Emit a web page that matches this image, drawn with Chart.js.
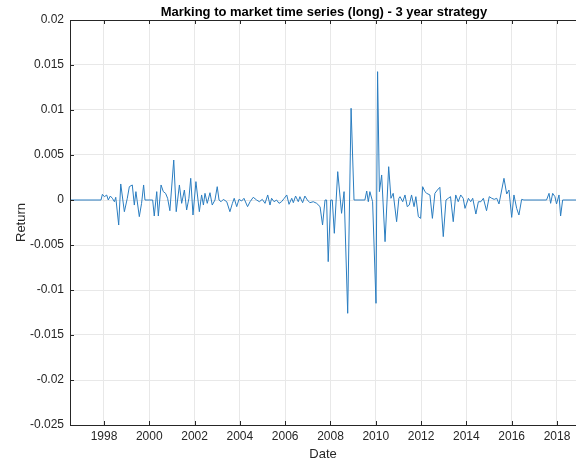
<!DOCTYPE html>
<html><head><meta charset="utf-8">
<script src="https://cdn.jsdelivr.net/npm/chart.js@4"></script>
<style>html,body{margin:0;padding:0;background:#fff;overflow:hidden}#w{width:576px;height:462px}</style>
</head><body><div id="w"><canvas id="c"></canvas></div>
<script>
const years = [1996.5,1997.87,1997.93,1998.02,1998.12,1998.19,1998.28,1998.37,1998.46,1998.52,1998.65,1998.74,1998.90,1999.03,1999.12,1999.25,1999.34,1999.41,1999.56,1999.66,1999.75,1999.81,2000.15,2000.22,2000.33,2000.40,2000.52,2000.62,2000.72,2000.81,2000.91,2001.08,2001.19,2001.33,2001.43,2001.55,2001.65,2001.75,2001.83,2001.93,2002.06,2002.21,2002.31,2002.39,2002.46,2002.56,2002.68,2002.78,2002.90,2003.00,2003.08,2003.17,2003.27,2003.42,2003.56,2003.67,2003.75,2003.86,2003.96,2004.08,2004.18,2004.34,2004.45,2004.59,2004.74,2004.86,2004.99,2005.11,2005.23,2005.33,2005.40,2005.51,2005.62,2005.73,2005.84,2005.96,2006.07,2006.17,2006.29,2006.36,2006.46,2006.58,
2006.65,2006.77,2006.87,2006.98,2007.09,2007.24,2007.39,2007.54,2007.65,2007.76,2007.83,2007.90,2008.01,2008.08,2008.17,2008.32,2008.49,2008.60,2008.76,2008.91,2009.04,2009.52,2009.60,2009.67,2009.74,2009.86,2010.01,2010.08,2010.16,2010.26,2010.41,2010.57,2010.67,2010.77,2010.92,2011.02,
2011.07,2011.19,2011.29,2011.39,2011.48,2011.58,2011.69,2011.77,2011.88,2011.98,2012.07,2012.17,2012.25,2012.39,2012.50,2012.61,2012.72,2012.83,2012.98,2013.10,2013.20,2013.30,2013.42,2013.53,2013.64,2013.75,2013.86,2013.94,2014.09,2014.19,2014.28,2014.42,2014.53,2014.64,2014.75,2014.89,2015.01,2015.12,2015.23,2015.34,2015.44,2015.56,2015.66,2015.78,2015.88,2016.00,2016.10,2016.22,2016.32,2016.44,2016.54,2017.54,2017.65,2017.72,2017.81,2017.91,2017.98,2018.09,2018.16,2018.25,2018.84];
const returns = [0,0,0.63,0.37,0.55,0,0.44,0.19,-0.19,0.30,-2.78,1.78,-1.30,0.19,1.48,1.67,-0.56,0.93,-1.85,-0.37,1.67,0,0,-1.78,0.93,-1.78,1.67,0.93,0.74,0.19,-1.19,4.44,-1.30,1.67,-0.37,1.11,-1.11,0.19,2.41,-1.67,2.04,-1.30,0.56,-0.56,0.74,-0.37,0.81,-0.56,0,1.48,0,-0.19,0.07,-0.19,-1.30,-0.37,0.19,-0.74,0.07,-0.11,0.19,-0.74,-0.19,0.30,0,-0.19,0.07,-0.37,0.56,-0.56,0.19,-0.19,0,-0.37,-0.19,0.19,0.56,-0.48,0.19,-0.30,0.44,-0.19,
0.37,-0.30,0.44,0,-0.30,-0.19,-0.37,-0.74,-2.78,0,0,-6.85,0,0,-3.70,3.15,-1.48,0.93,-12.59,10.19,0,0,1.0,-0.19,0.93,-0.19,-11.48,14.26,0.93,2.78,-4.63,3.70,0.19,0.74,-2.41,0.19,
0.37,-0.19,0.56,-0.74,-0.56,0.56,-0.74,0.37,-1.85,-2.04,1.48,0.93,0.74,0.56,-2.04,0.74,1.11,1.41,-4.07,0,0.19,0.37,-2.41,0.56,-0.19,0.56,0.19,-0.93,0.19,-0.19,0.19,-1.56,-0.19,-0.19,0.19,-1.19,0.37,0.19,0.07,0.19,-0.44,1.11,2.41,0.67,1.11,-1.93,0.56,-0.93,-1.67,0.07,0,0,0.74,-0.37,0.74,0.37,-0.44,0.56,-1.78,0,0];
const xTicks = [1998,2000,2002,2004,2006,2008,2010,2012,2014,2016,2018];
const yTicks = [-0.025,-0.02,-0.015,-0.01,-0.005,0,0.005,0.01,0.015,0.02];
const titleText = 'Marking to market time series (long) - 3 year strategy';

const pts = years.map((y,i)=>({x:y, y:returns[i]/1000}));
const font = {family:'Helvetica, Arial, "Liberation Sans", sans-serif', size:12};
const boxPlugin = {id:'box', afterDraw(ch){const a=ch.chartArea,c=ch.ctx;c.save();c.strokeStyle='#262626';c.lineWidth=1;c.strokeRect(a.left+0.5,a.top+0.5,a.right-a.left,a.bottom-a.top);
 c.beginPath();
 xTicks.forEach(t=>{const x=Math.round(ch.scales.x.getPixelForValue(t))+0.5;c.moveTo(x,a.bottom);c.lineTo(x,a.bottom-4);c.moveTo(x,a.top);c.lineTo(x,a.top+4);});
 yTicks.forEach(t=>{const y=Math.round(ch.scales.y.getPixelForValue(t))+0.5;c.moveTo(a.left,y);c.lineTo(a.left+4,y);});
 c.stroke();
 c.fillStyle='#000';c.font='bold 13px Helvetica, Arial, "Liberation Sans", sans-serif';c.textAlign='center';c.textBaseline='alphabetic';
 c.fillText(titleText,324,16);
 c.restore();}};
new Chart(document.getElementById('c'),{
 type:'line',
 data:{datasets:[{data:pts,borderColor:'#2a7dc0',borderWidth:1,pointRadius:0,tension:0,fill:false}]},
 plugins:[boxPlugin],
 options:{responsive:true,maintainAspectRatio:false,animation:false,
  layout:{padding:{left:0,right:0,top:20,bottom:0}},
  plugins:{legend:{display:false},tooltip:{enabled:false},title:{display:false}},
  scales:{
   x:{type:'linear',min:1996.5,max:2018.84,
    afterBuildTicks:s=>{s.ticks=xTicks.map(v=>({value:v}));},
    afterFit:s=>{s.height=37;},
    ticks:{callback:v=>String(v),color:'#262626',font,maxRotation:0,padding:4},
    grid:{color:'#e8e8e8',drawTicks:false},border:{display:false},
    title:{display:true,text:'Date',color:'#262626',font:{...font,size:13},padding:{top:0,bottom:0}}},
   y:{min:-0.025,max:0.02,
    afterBuildTicks:s=>{s.ticks=yTicks.map(v=>({value:v}));},
    afterFit:s=>{s.width=70;},
    ticks:{callback:v=>String(Math.round(v*1000)/1000),color:'#262626',font,padding:6},
    grid:{color:'#e8e8e8',drawTicks:false},border:{display:false},
    title:{display:true,text:'Return',color:'#262626',font:{...font,size:13},padding:{top:14,bottom:0}}}
  }}
});
</script></body></html>
